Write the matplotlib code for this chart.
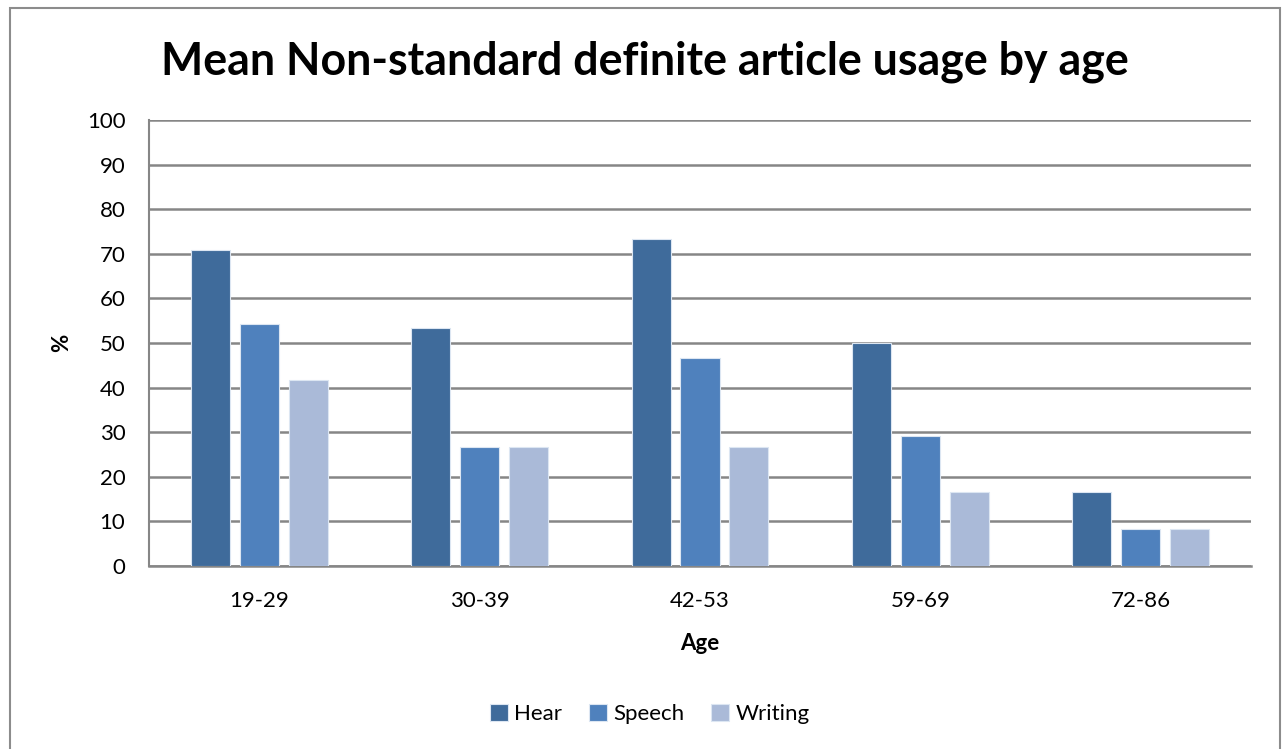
import matplotlib.pyplot as plt
import matplotlib.patches as mpatches
import numpy as np

plt.rcParams['font.family'] = ['Lato', 'DejaVu Sans']

ages = ["19-29", "30-39", "42-53", "59-69", "72-86"]
hear = [70.83, 53.33, 73.33, 50.0, 16.67]
speech = [54.17, 26.67, 46.67, 29.17, 8.33]
writing = [41.67, 26.67, 26.67, 16.67, 8.33]

series = [("Hear", hear, "#3f6b9b"),
          ("Speech", speech, "#4f81bd"),
          ("Writing", writing, "#aabad8")]

W, H = 1282, 749
fig = plt.figure(figsize=(W / 100, H / 100), dpi=100)
ax = fig.add_axes([149 / W, 1 - 566 / H, (1251 - 149) / W, (566 - 120) / H])

# outer chart frame
fig.patches.append(mpatches.Rectangle((10 / W, -0.05), (1270 / W), 1 - 8 / H + 0.05,
                                      transform=fig.transFigure, fill=False,
                                      edgecolor="#8c8c8c", linewidth=1.5))

x = np.arange(len(ages))
bw = 0.177
step = 0.222
for i, (name, vals, col) in enumerate(series):
    ax.bar(x + (i - 1) * step, vals, width=bw, color=col, edgecolor="#dce6f2",
           linewidth=0.8, label=name, zorder=3)

ax.set_xlim(-0.5, len(ages) - 0.5)
ax.set_ylim(0, 100)
ax.set_yticks(range(0, 101, 10))
ax.set_xticks(x)
ax.set_xticklabels(ages)
ax.tick_params(axis="x", length=0, pad=18, labelsize=16)
ax.tick_params(axis="y", length=0, labelsize=16, pad=17)

ax.grid(axis="y", color="#868686", linewidth=1.8, zorder=0)
for s in ["top", "right"]:
    ax.spines[s].set_visible(False)
ax.spines["left"].set_color("#868686")
ax.spines["left"].set_linewidth(1.5)
ax.spines["bottom"].set_color("#868686")
ax.spines["bottom"].set_linewidth(1.8)

ax.set_xlabel("Age", fontsize=16, fontweight="bold")
ax.set_ylabel("%", fontsize=16, fontweight="bold")
ax.xaxis.set_label_coords(551 / 1102, (566 - 633) / 446)
ax.yaxis.set_label_coords((72 - 149) / 1102, 0.5)

fig.text(645 / W, 1 - 62 / H, "Mean Non-standard definite article usage by age",
         ha="center", va="center", fontsize=32.2, fontweight="bold")

fig.legend(loc="center", bbox_to_anchor=(650 / W, 1 - 714 / H), ncol=3, frameon=False,
           fontsize=16, handlelength=0.8, handleheight=0.8, handletextpad=0.3,
           columnspacing=1.2)

fig.savefig("out.png", dpi=100)
